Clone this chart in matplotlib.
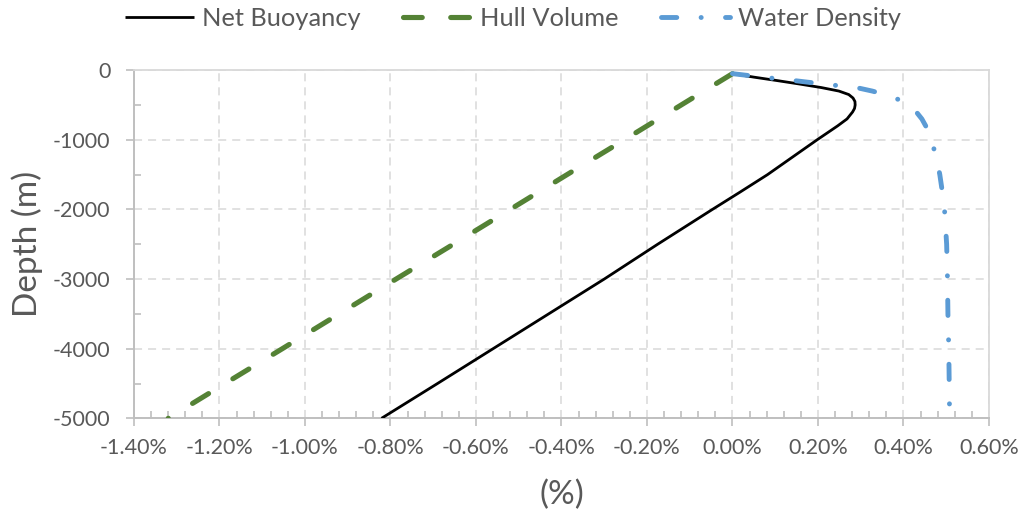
import matplotlib
matplotlib.use("Agg")
import matplotlib.pyplot as plt
from matplotlib.ticker import MultipleLocator, FuncFormatter

plt.rcParams['font.family'] = ['Lato', 'DejaVu Sans']
plt.rcParams['lines.scale_dashes'] = False

# depth profile (m) and percentage changes
depth = [-50, -100, -150, -200, -250, -300, -350, -400, -450, -500, -550,
         -600, -700, -800, -900, -1000, -1250, -1500, -1750, -2000, -2500,
         -3000, -3500, -4000, -4500, -5000]
net_buoyancy = [0.0, 0.05, 0.105, 0.158, 0.208, 0.249, 0.272, 0.282,
                0.2865, 0.287, 0.2855, 0.281, 0.268, 0.246, 0.222, 0.198,
                0.14, 0.082, 0.018, -0.047, -0.175, -0.3, -0.43, -0.56,
                -0.69, -0.821]
water_density = [0.0, 0.07, 0.145, 0.214, 0.29, 0.327, 0.357, 0.38, 0.399,
                 0.41, 0.421, 0.43, 0.443, 0.452, 0.46, 0.465, 0.477, 0.485,
                 0.491, 0.496, 0.501, 0.503, 0.504, 0.506, 0.507, 0.508]

hull_depth = [-50, -500, -1000, -1500, -2000, -2500, -3000, -3500, -4000, -4500, -5000]
hull_volume = [0.0, -0.12, -0.253, -0.387, -0.52, -0.653, -0.787, -0.92,
               -1.053, -1.187, -1.32]

x_ticks = [-1.4, -1.2, -1.0, -0.8, -0.6, -0.4, -0.2, 0.0, 0.2, 0.4, 0.6]
y_ticks = [0, -1000, -2000, -3000, -4000, -5000]

text_col = '#595959'

fig = plt.figure(figsize=(10.26, 5.16), dpi=100)
ax = fig.add_axes([0.1306, 0.1893, 0.8333, 0.6747])

ax.plot(net_buoyancy, depth, color='black', lw=2.0, label='Net Buoyancy',
        solid_capstyle='butt', solid_joinstyle='round', zorder=3)
ax.plot(hull_volume, hull_depth, color='#548235', lw=3.7, label='Hull Volume',
        dashes=(13.5, 20.5), dash_capstyle='round', zorder=4)
ax.plot(water_density, depth, color='#5B9BD5', lw=3.5, label='Water Density',
        dashes=(11, 17.5, 0.1, 17.5), dash_capstyle='round',
        dash_joinstyle='round', zorder=5)

ax.set_xlim(-1.4, 0.6)
ax.set_ylim(-5000, 0)
ax.set_xticks(x_ticks)
ax.set_yticks(y_ticks)
ax.xaxis.set_minor_locator(MultipleLocator(0.04))
ax.yaxis.set_minor_locator(MultipleLocator(500))
ax.xaxis.set_major_formatter(FuncFormatter(lambda v, p: f"{v:.2f}%"))
ax.yaxis.set_major_formatter(FuncFormatter(lambda v, p: f"{int(round(v))}"))

ax.grid(True, which='major', color='#D9D9D9', lw=1.1, linestyle=(0, (5.8, 4.3)))
ax.set_axisbelow(True)

for side in ['top', 'right']:
    ax.spines[side].set_color('#D9D9D9')
    ax.spines[side].set_linewidth(1.3)
for side in ['left', 'bottom']:
    ax.spines[side].set_color('#BFBFBF')
    ax.spines[side].set_linewidth(1.4)

ax.tick_params(which='major', direction='out', length=6, width=1.2,
               color='#BFBFBF', labelsize=15.5, labelcolor=text_col)
ax.tick_params(which='minor', direction='in', length=5, width=1.2, color='#BFBFBF')
ax.tick_params(axis='x', which='major', pad=8)
ax.tick_params(axis='y', which='major', pad=11)

ax.set_xlabel('(%)', fontsize=24, color=text_col, labelpad=16)
ax.set_ylabel('Depth (m)', fontsize=24, color=text_col, labelpad=7)

fig.legend(loc='center', bbox_to_anchor=(0.5, 0.965), ncol=3, frameon=False,
           fontsize=18.3, labelcolor=text_col, handlelength=2.7,
           handletextpad=0.3, columnspacing=1.7, borderaxespad=0)

fig.savefig('out.png', dpi=100)
